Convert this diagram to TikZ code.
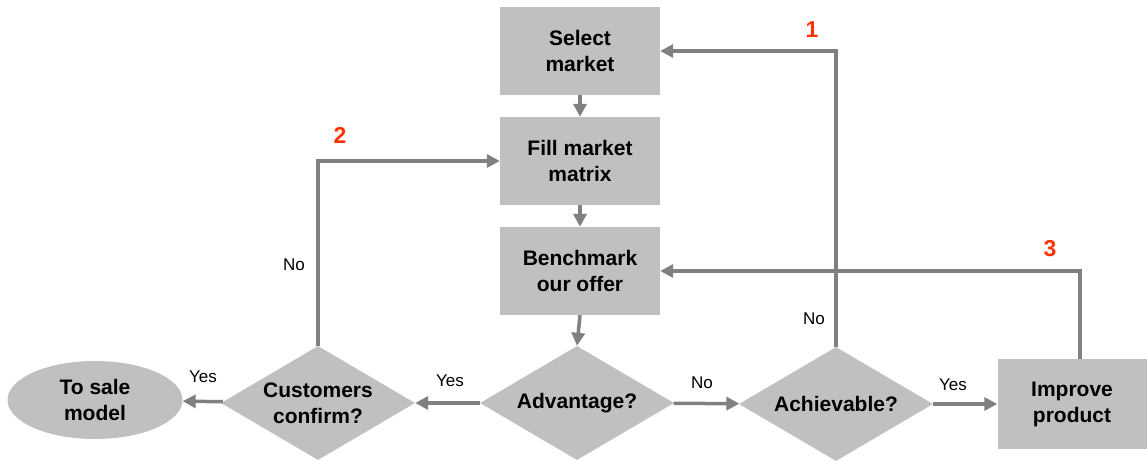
\documentclass[tikz,border=0pt]{standalone}
\usepackage{fontspec}
\setmainfont{Liberation Sans}
\usetikzlibrary{shapes.geometric}
\usetikzlibrary{arrows.meta}
\definecolor{boxgray}{RGB}{192,192,192}
\definecolor{linegray}{RGB}{128,128,128}
\definecolor{numred}{RGB}{255,51,0}

\begin{document}
\begin{tikzpicture}[x=1pt,y=-1pt,>={Triangle[length=13pt,width=13pt]},
        box/.style={fill=boxgray,inner sep=0pt,minimum width=160pt,minimum height=88pt,align=center,font=\bfseries\fontsize{21}{26}\selectfont},
        decide/.style={diamond,aspect=1.7,fill=boxgray,inner sep=0pt,minimum width=194pt,minimum height=114pt,align=center,font=\bfseries\fontsize{21}{26}\selectfont},
        flow/.style={->,draw=linegray,line width=3.5pt},
        lbl/.style={font=\fontsize{17}{20}\selectfont},
        num/.style={text=numred,font=\bfseries\fontsize{23}{26}\selectfont}]
        \useasboundingbox (0,0) rectangle (1147,460);
        \node[box] (select) at (580,51) {Select\\market};
        \node[box] (fill) at (580,161) {Fill market\\matrix};
        \node[box] (bench) at (580,271) {Benchmark\\our offer};
        \node[decide] (adv) at (577,403) {Advantage?};
        \node[decide] (cust) at (318,403) {Customers\\confirm?};
        \node[decide] (achv) at (836,404) {Achievable?};
        \node[box,minimum width=149pt,minimum height=90pt] (impr) at (1072,404) {Improve\\product};
        \node[ellipse,fill=boxgray,inner sep=0pt,minimum width=175pt,minimum height=78pt,align=center,font=\bfseries\fontsize{21}{26}\selectfont] (sale) at (95,400) {To sale\\model};
        \draw[flow] (select) -- (fill);
        \draw[flow] (fill) -- (bench);
        \draw[flow] (bench.south) -- (adv.north);
        \draw[flow] (adv) -- (cust);
        \draw[flow] (cust) -- (sale);
        \draw[flow] (adv) -- (achv);
        \draw[flow] (achv) -- (impr);
        \draw[flow] (achv.north) |- (select.east);
        \draw[flow] (cust.north) |- (fill.west);
        \draw[flow] ([xshift=8pt]impr.north) |- (bench.east);
        \node[lbl] (yes1) at (203,377) {Yes};
        \node[lbl] (yes2) at (450,381) {Yes};
        \node[lbl] (no1) at (702,383) {No};
        \node[lbl] (yes3) at (953,385) {Yes};
        \node[lbl] (no2) at (814,319) {No};
        \node[lbl] (no3) at (294,265) {No};
        \node[num] (n1) at (812,30) {1};
        \node[num] (n2) at (340,135) {2};
        \node[num] (n3) at (1050,249) {3};
\end{tikzpicture}
\end{document}
